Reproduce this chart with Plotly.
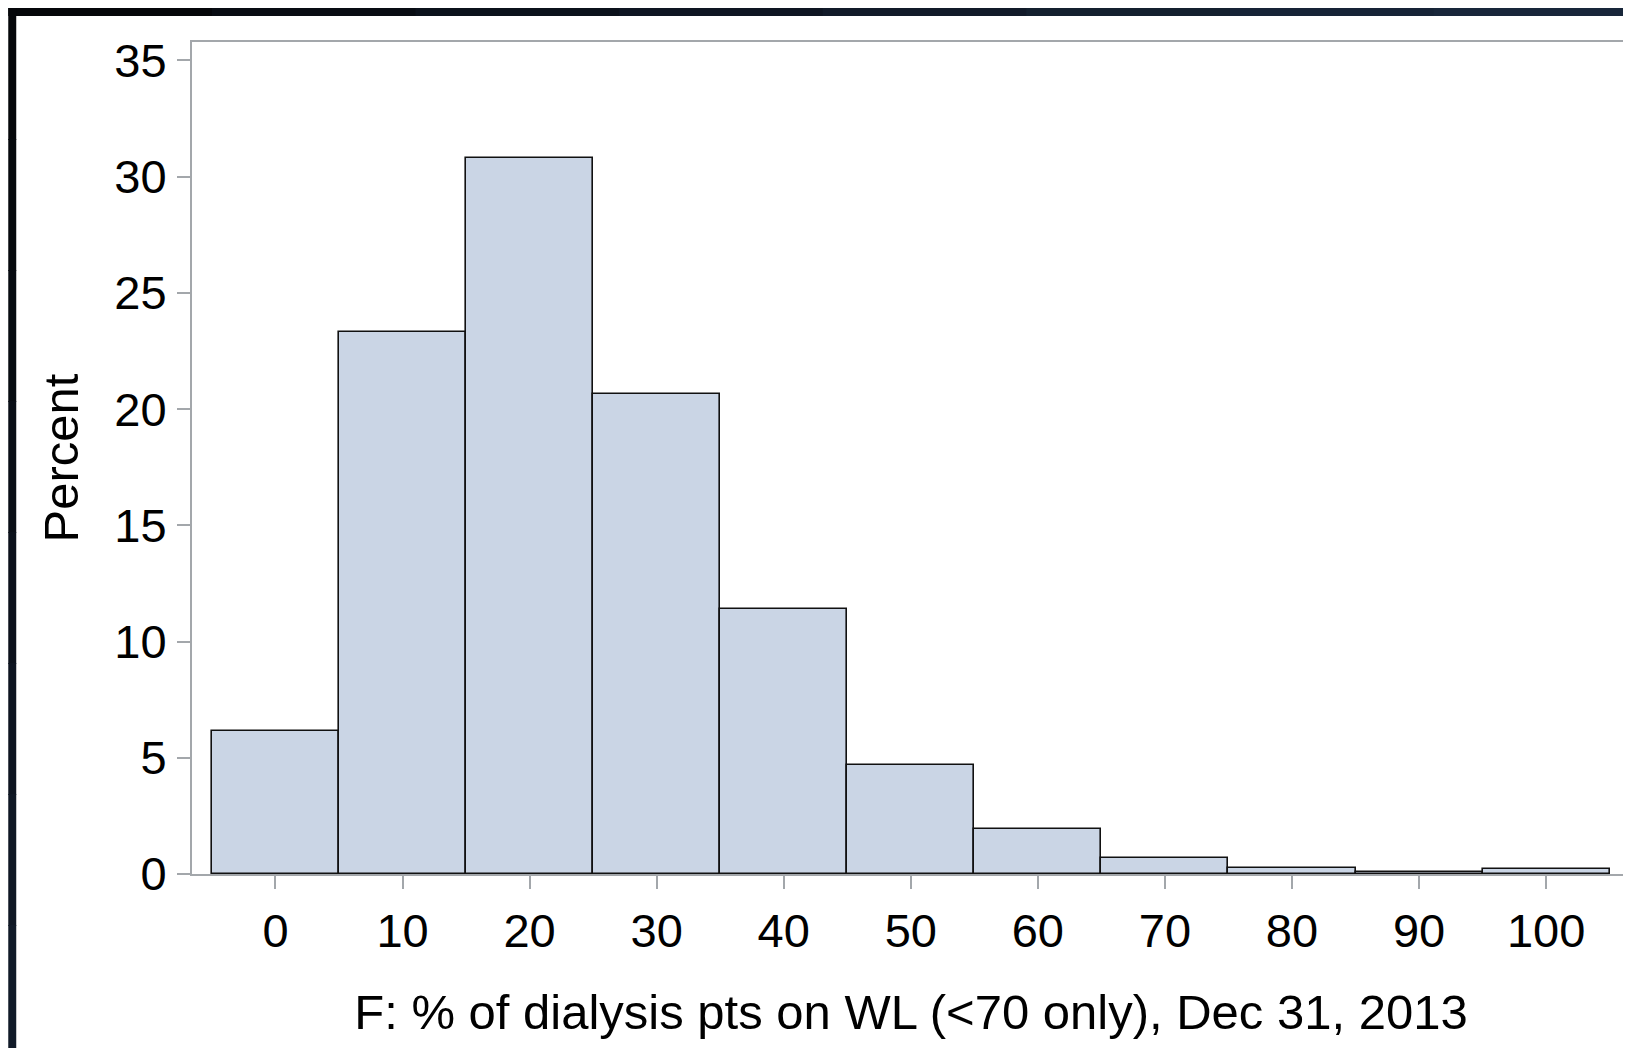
import plotly.graph_objects as go

# Data
bin_centers = [0, 10, 20, 30, 40, 50, 60, 70, 80, 90, 100]
percent = [6.15, 23.3, 30.8, 20.65, 11.38, 4.71, 1.92, 0.70, 0.27, 0.10, 0.20]
x_ticks = [0, 10, 20, 30, 40, 50, 60, 70, 80, 90, 100]
y_ticks = [0, 5, 10, 15, 20, 25, 30, 35]
x_title = "F: % of dialysis pts on WL (<70 only), Dec 31, 2013"
y_title = "Percent"

W, H = 1631, 1048
ML, MR, MT, MB = 184, 7, 34, 182
PW, PH = W - ML - MR, H - MT - MB

FONT = "Liberation Sans, Arial, sans-serif"
AXIS_GRAY = "#a3a7ab"

fig = go.Figure()
fig.add_trace(go.Bar(
    x=bin_centers, y=percent, width=10,
    marker=dict(color="#cad5e5", line=dict(color="#111111", width=1.6)),
    showlegend=False,
))

def px2paper_x(px):
    return (px - ML) / PW

def px2paper_y(py):
    return (H - MB - py) / PH

shapes = []
# dark frame strips (top and left), approximated gradient
top_cols = ["#05070a", "#080c13", "#0b111b", "#0e1522", "#111a29", "#14202f", "#162336", "#18263a"]
n = len(top_cols)
for i, c in enumerate(top_cols):
    shapes.append(dict(type="rect", xref="paper", yref="paper",
                       x0=px2paper_x(W * i / n), x1=px2paper_x(W * (i + 1) / n + 1),
                       y0=px2paper_y(8), y1=px2paper_y(0),
                       fillcolor=c, line=dict(width=0), layer="above"))
left_cols = ["#05070a", "#06090d", "#070b11", "#090e16", "#0b111b", "#0d1420", "#0f1724", "#111a28"]
for i, c in enumerate(left_cols):
    shapes.append(dict(type="rect", xref="paper", yref="paper",
                       x0=px2paper_x(0), x1=px2paper_x(8),
                       y0=px2paper_y(H * (i + 1) / n + 1), y1=px2paper_y(H * i / n),
                       fillcolor=c, line=dict(width=0), layer="above"))

fig.update_layout(
    width=W, height=H,
    margin=dict(l=ML, r=MR, t=MT, b=MB, pad=0),
    paper_bgcolor="white", plot_bgcolor="white",
    font=dict(family=FONT, size=47, color="black"),
    bargap=0,
    shapes=shapes,
    xaxis=dict(
        range=[-6.57, 106.6], tickvals=x_ticks, ticktext=[str(v) for v in x_ticks],
        showgrid=False, zeroline=False,
        showline=True, linecolor=AXIS_GRAY, linewidth=2, mirror=True,
        ticks="outside", ticklen=13, tickwidth=2, tickcolor=AXIS_GRAY,
        tickfont=dict(size=47), ticklabelstandoff=2,
        title=dict(text=x_title, font=dict(size=49), standoff=38),
    ),
    yaxis=dict(
        range=[0, 35.79], tickvals=y_ticks, ticktext=[str(v) for v in y_ticks],
        showgrid=False, zeroline=False,
        showline=True, linecolor=AXIS_GRAY, linewidth=2, mirror=True,
        ticks="outside", ticklen=13, tickwidth=2, tickcolor=AXIS_GRAY,
        tickfont=dict(size=47), ticklabelstandoff=1,
        title=dict(text=y_title, font=dict(size=49), standoff=20),
    ),
)

fig.write_html("out.html")
